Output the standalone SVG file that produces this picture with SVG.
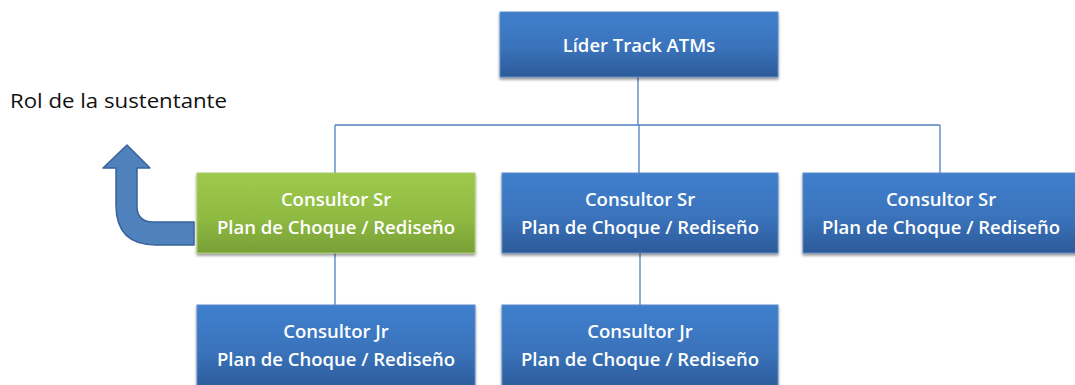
<svg xmlns="http://www.w3.org/2000/svg" width="1075" height="385" viewBox="0 0 1075 385">
<defs>
<linearGradient id="gb" x1="0" y1="0" x2="0" y2="1">
<stop offset="0" stop-color="#3f7fcd"/>
<stop offset="0.55" stop-color="#3a73bb"/>
<stop offset="1" stop-color="#2c5a99"/>
</linearGradient>
<linearGradient id="gg" x1="0" y1="0" x2="0" y2="1">
<stop offset="0" stop-color="#9dc94b"/>
<stop offset="0.55" stop-color="#90bb43"/>
<stop offset="1" stop-color="#789f36"/>
</linearGradient>
<filter id="sh" x="-5%" y="-10%" width="110%" height="130%">
<feGaussianBlur in="SourceAlpha" stdDeviation="1.5"/>
<feOffset dx="0" dy="2" result="b"/>
<feComponentTransfer><feFuncA type="linear" slope="0.45"/></feComponentTransfer>
<feMerge><feMergeNode/><feMergeNode in="SourceGraphic"/></feMerge>
</filter>
</defs>
<style>
.box{fill:url(#gb);stroke:#5d8bc8;stroke-width:1;filter:url(#sh)}
.gbox{fill:url(#gg);stroke:#a9cc6e;stroke-width:1;filter:url(#sh)}
.t{font-family:"Open Sans","Liberation Sans",sans-serif;font-size:18.5px;fill:#ffffff;text-anchor:middle;font-weight:600}
.ln{stroke:#4f81bd;stroke-width:1.3;fill:none}
.lbl{font-family:"Open Sans","Liberation Sans",sans-serif;font-size:20px;fill:#111111}
</style>
<g id="connectors">
<path class="ln" d="M638 77 V125"/>
<path class="ln" d="M335 125 H940"/>
<path class="ln" d="M335 125 V173 M639 125 V173 M940 125 V173"/>
<path class="ln" d="M335 253 V305 M640 253 V305"/>
</g>
<g id="n-lider">
<rect class="box" x="500" y="12" width="278" height="65"/>
<text class="t" x="639" y="52">Líder Track ATMs</text>
</g>
<g id="n-sr1">
<rect class="gbox" x="197" y="173" width="278" height="80"/>
<text class="t" x="336" y="206">Consultor Sr</text>
<text class="t" x="336" y="234">Plan de Choque / Rediseño</text>
</g>
<g id="n-sr2">
<rect class="box" x="502" y="173" width="276" height="80"/>
<text class="t" x="640" y="206">Consultor Sr</text>
<text class="t" x="640" y="234">Plan de Choque / Rediseño</text>
</g>
<g id="n-sr3">
<rect class="box" x="803" y="173" width="276" height="80"/>
<text class="t" x="941" y="206">Consultor Sr</text>
<text class="t" x="941" y="234">Plan de Choque / Rediseño</text>
</g>
<g id="n-jr1">
<rect class="box" x="197" y="305" width="278" height="85"/>
<text class="t" x="336" y="338">Consultor Jr</text>
<text class="t" x="336" y="366">Plan de Choque / Rediseño</text>
</g>
<g id="n-jr2">
<rect class="box" x="502" y="305" width="276" height="85"/>
<text class="t" x="640" y="338">Consultor Jr</text>
<text class="t" x="640" y="366">Plan de Choque / Rediseño</text>
</g>
<g id="arrow">
<path d="M194 222 H153 Q137 222 137 206 V168 H150 L127 145 L103 168 H116 V205 Q116 245 156 245 H194 Z" fill="#4f81bd" stroke="#3a6399" stroke-width="1.5" stroke-linejoin="round"/>
</g>
<text class="lbl" x="10" y="108" textLength="217" lengthAdjust="spacingAndGlyphs">Rol de la sustentante</text>
</svg>
